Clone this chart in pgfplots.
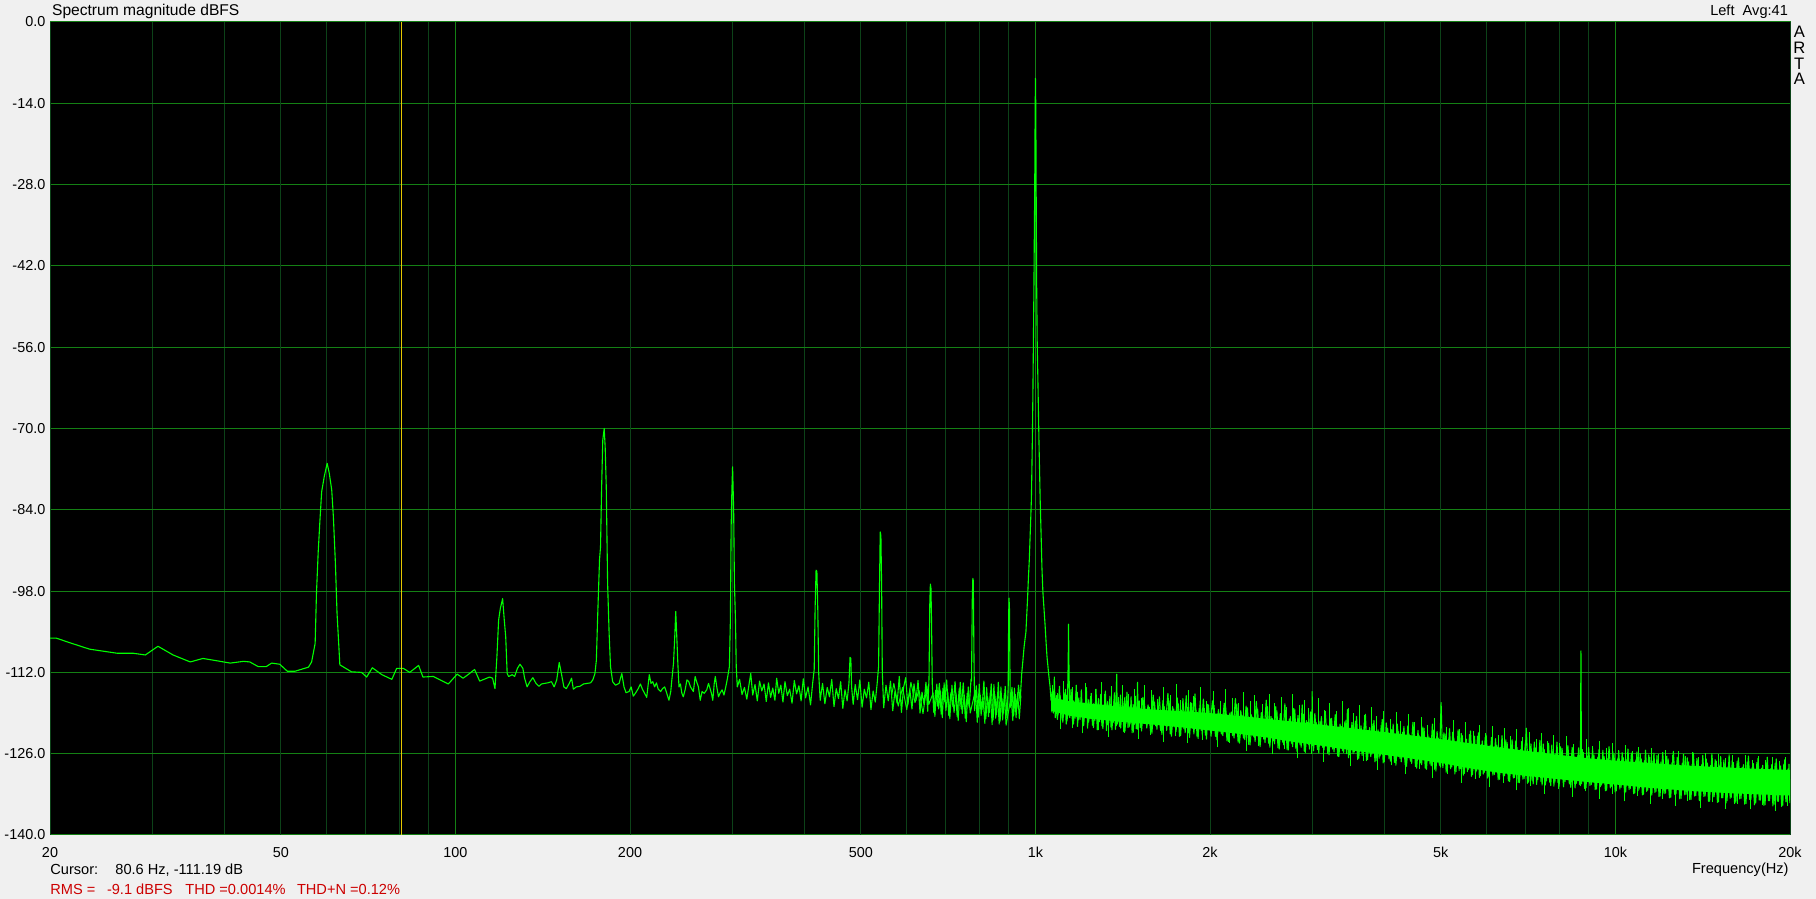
\documentclass[border=0pt]{standalone}
\usepackage{fontspec}
\setmainfont{Liberation Sans}
\usepackage{pgfplots}
\usepackage{pgfplotstable}
\pgfplotsset{compat=1.18}
\definecolor{bgGray}{RGB}{240,240,240}
\definecolor{gridBright}{RGB}{20,128,20}
\definecolor{gridDark}{RGB}{12,66,24}
\definecolor{traceGreen}{RGB}{0,255,0}
\definecolor{cursorYellow}{RGB}{230,200,0}
\definecolor{infoRed}{RGB}{204,0,0}

\pgfplotstableread{
f db
20 -106.1
20.5 -106.1
21.65 -106.9
23.4 -108.0
26.1 -108.7
27.8 -108.7
29.2 -109.0
30.7 -107.5
32.6 -109.0
34.9 -110.2
36.7 -109.6
38.8 -110.0
40.9 -110.4
43.1 -110.1
44.2 -110.2
45.7 -111.0
47.2 -111.0
48.2 -110.4
49.8 -110.6
51.3 -111.8
52.9 -111.8
55.8 -111.1
56.5 -110.2
57.3 -107.0
57.6 -98.4
58.0 -91.2
58.4 -85.8
58.8 -80.9
59.4 -78.3
60.1 -76.0
60.6 -77.7
61.2 -80.6
61.6 -85.2
62.1 -93.2
62.5 -101.8
63.0 -108.1
63.2 -110.7
66.2 -111.9
68.9 -112.0
70.3 -112.8
71.9 -111.2
74.7 -112.4
77.7 -113.2
79.2 -111.3
81.3 -111.3
83.4 -112.0
86.4 -110.8
87.9 -112.8
91.6 -112.7
97.2 -114.0
100.7 -112.3
103.1 -113.0
105.1 -112.4
107.9 -111.5
110.1 -113.5
114.5 -112.8
115.9 -113.0
117.0 -114.8
117.9 -109.3
118.7 -103.0
119.5 -101.0
120.6 -99.3
121.4 -103.0
122.1 -105.9
122.8 -112.2
123.5 -112.7
125.3 -112.4
126.5 -112.7
127.9 -111.3
129.2 -110.6
130.7 -111.3
131.6 -113.0
132.9 -114.5
134.4 -113.6
136.0 -112.9
137.7 -113.9
139.3 -114.4
140.7 -114.0
142.3 -113.9
144.3 -113.8
146.4 -113.6
148.0 -114.5
149.5 -113.3
151.0 -110.3
152.3 -112.2
153.8 -114.5
155.3 -114.8
157.1 -113.9
158.6 -113.0
159.7 -114.9
161.6 -114.5
163.9 -114.4
166.2 -114.0
168.6 -113.9
171.0 -113.8
172.5 -113.3
174.0 -112.2
175.0 -109.9
175.9 -102.4
177.2 -92.6
177.9 -90.4
178.7 -80.0
179.5 -72.0
180.5 -70.0
181.2 -73.1
182.0 -80.0
183.0 -96.7
184.1 -105.3
185.1 -111.0
186.7 -113.6
188.8 -114.2
191.5 -113.9
193.6 -112.2
195.3 -114.5
196.9 -115.5
199.2 -115.3
200.9 -114.5
202.6 -116.1
204.6 -115.5
206.6 -114.8
208.4 -114.0
210.1 -114.9
211.9 -115.6
213.7 -116.3
215.9 -112.4
217.4 -113.9
218.9 -113.6
220.5 -114.5
222.1 -113.8
223.7 -114.9
225.9 -115.3
227.5 -114.8
229.5 -114.5
231.4 -115.6
233.4 -116.8
235.1 -115.3
236.1 -113.3
237.7 -110.4
238.8 -106.1
239.8 -101.5
240.8 -105.9
241.8 -110.4
242.9 -114.5
244.3 -114.0
245.7 -115.6
247.1 -116.2
248.9 -115.0
250.7 -113.3
252.5 -113.6
254.3 -114.5
257.2 -115.3
259.0 -112.7
260.5 -113.6
262.4 -114.5
264.3 -116.8
266.2 -115.3
268.5 -115.6
271.2 -115.0
273.1 -113.9
274.3 -114.5
276.3 -115.6
277.8 -116.8
279.4 -113.9
280.6 -112.7
282.2 -114.5
284.2 -116.2
285.8 -115.6
288.3 -115.0
290.4 -115.9
292.5 -114.5
294.1 -113.3
295.4 -112.2
296.7 -111.0
297.9 -103.0
298.8 -86.9
299.7 -80.6
300.5 -76.6
301.8 -84.0
302.7 -96.7
304.0 -103.0
304.9 -111.0
306.2 -114.5
309 -113.2
312 -115.8
315 -114.6
318 -116.6
321 -113.9
323 -112.2
325.5 -115.9
328.5 -114.1
331.5 -116.9
334.5 -113.5
337.5 -115.2
340.5 -114.0
343.5 -117.0
346.5 -113.8
349.5 -116.3
352.5 -114.7
355.5 -116.8
358 -113.0
361 -115.6
364 -114.2
367 -117.1
370 -113.6
373.5 -116.0
377 -114.9
380.5 -117.3
384 -113.4
387.5 -115.7
391 -114.3
394.5 -116.9
398 -113.1
401.5 -116.4
405.5 -114.5
409.5 -117.6
413 -113.8
415.5 -111.5
417 -101.0
418.6 -94.4
420 -94.6
421.5 -101.3
423 -112.2
425.5 -116.8
429.5 -113.9
433.5 -117.4
437.5 -114.6
441.5 -116.2
445.5 -113.2
449.5 -117.9
453.5 -114.8
457.5 -116.5
461.5 -113.6
465.5 -118.2
469.5 -115.0
473.5 -116.9
477 -113.8
479 -109.4
480.5 -109.6
482 -114.5
485 -117.5
489 -114.1
493.5 -116.7
498 -113.3
502.5 -118.0
507 -114.9
511.5 -116.4
516 -113.7
520.5 -118.4
525 -115.2
529.5 -117.1
533.5 -113.9
536.5 -111.0
538.5 -97.0
540 -87.8
541.5 -88.5
543 -97.0
544.5 -112.0
547.5 -118.1
552.5 -114.2
557.5 -116.9
562.5 -113.5
567.5 -118.6
572.5 -115.3
577.5 -117.3
582.5 -112.7
587.5 -118.9
592.5 -114.6
597.5 -112.9
602.5 -117.6
607.5 -115.0
612.5 -118.3
617.5 -114.0
622.5 -116.8
627.5 -113.4
632.5 -119.0
637.5 -115.4
642.5 -117.5
647.5 -113.7
652 -118.7
655.5 -113.0
657.5 -100.0
659 -96.8
660.5 -97.5
662 -103.0
664 -114.0
668 -118.9
673 -115.1
678 -117.8
683 -113.9
688 -119.2
693 -114.7
698 -117.1
703 -113.3
709 -119.4
715 -115.5
721 -117.9
727 -113.6
733 -119.6
739 -114.8
745 -118.3
751 -113.8
757 -119.9
763 -115.6
769 -118.0
774.5 -113.2
776 -113.5
778.4 -99.4
780 -95.8
781.5 -96.2
783.5 -108.4
785.5 -118.6
791 -114.3
797 -119.7
803 -115.9
809 -118.4
815 -113.5
821 -120.0
827 -116.2
833 -118.9
839 -114.0
845 -120.2
851 -115.8
857 -119.3
863 -113.7
869 -120.4
875 -116.4
881 -119.0
887 -114.4
893 -119.8
897.5 -114.5
899.2 -102.1
900.5 -99.2
902 -101.0
903.5 -110.0
905 -118.0
911 -114.6
917 -119.5
923 -115.8
929 -118.2
935 -114.2
941 -117.0
947 -112.2
951 -110.2
956 -107.6
963 -105.0
969 -99.5
972.5 -95.8
976 -92.6
980 -87.5
984 -82.3
986 -77.1
988 -71.4
990 -64.0
992 -55.0
994 -46.0
995.6 -37.0
997 -30.0
998.5 -18.0
1000 -9.7
1001.5 -15.0
1003 -30.0
1005 -45.8
1007 -55.0
1010 -62.0
1014 -72.0
1019 -82.3
1023 -88.6
1026 -93.8
1030 -98.1
1035 -101.3
1039 -103.8
1043 -106.7
1047 -109.3
1051 -111.0
1055 -112.7
1060 -114.5
1064 -116.8
1070 -115.2
1074 -119.0
1078 -112.8
1082 -119.8
1088 -116.0
1094 -119.2
1100 -114.4
1106 -120.2
1112 -116.8
1118 -119.6
1124 -115.5
1130 -120.9
1136 -116.2
1139 -110.0
1140.5 -103.7
1142 -110.0
1146 -119.8
1152 -114.9
1158 -120.4
1164 -116.9
1170 -119.9
1176 -114.2
1182 -121.3
1188 -116.4
1194 -120.1
1200 -115.0
1206 -120.8
1212 -117.3
1218 -119.7
1224 -114.6
1230 -121.6
1236 -116.7
1242 -120.0
1248 -115.6
1254 -121.1
1260 -117.4
1266 -120.3
1272 -114.9
1278 -121.9
1284 -116.5
1290 -120.5
1296 -115.8
1302 -121.2
1308 -117.6
1314 -120.1
1320 -115.2
1326 -122.0
1332 -117.0
1338 -120.7
1344 -116.1
1350 -121.4
1356 -117.9
1362 -120.6
1368 -115.5
1374 -121.8
1378 -116.0
1381 -112.3
1384 -120.9
1390 -117.2
1396 -121.3
1402 -115.9
1408 -120.4
1414 -117.7
1420 -122.2
1426 -116.3
1432 -120.8
1438 -115.4
1444 -121.5
1450 -117.9
1456 -120.9
1462 -116.2
1468 -122.4
1474 -117.5
1480 -121.0
1486 -116.6
1492 -121.7
1497 -118.0
1500 -113.7
1503 -121.2
1510 -116.9
1516 -121.5
1532 -116.3
1548 -120.8
1564 -117.6
1580 -122.3
1596 -115.9
1612 -121.2
1628 -118.3
1644 -122.0
1660 -116.8
1676 -121.0
1692 -115.6
1708 -122.6
1724 -117.9
1740 -121.4
1756 -116.4
1772 -123.0
1788 -118.5
1804 -121.7
1820 -116.0
1836 -122.4
1852 -117.2
1868 -121.6
1884 -115.7
1900 -123.1
1916 -118.2
1932 -122.0
1948 -116.6
1964 -122.8
1980 -117.5
1996 -121.9
2020 -116.9
2044 -123.0
2068 -118.4
2092 -122.6
2116 -117.3
2140 -123.8
2164 -119.0
2188 -122.9
2212 -116.5
2236 -124.0
2260 -118.6
2284 -123.3
2308 -117.8
2332 -124.4
2356 -119.3
2380 -123.1
2404 -117.0
2428 -124.6
2452 -118.9
2476 -123.5
2500 -116.8
2524 -124.2
2548 -119.6
2572 -123.8
2596 -117.9
2620 -125.0
2644 -119.1
2668 -124.0
2692 -117.4
2716 -125.3
2740 -120.0
2764 -124.2
2788 -118.2
2812 -125.1
2836 -119.4
2860 -124.5
2884 -117.6
2908 -125.6
2932 -120.3
2956 -124.4
2980 -118.8
2996 -124.0
3000 -115.3
3004 -124.6
3032 -119.1
3064 -125.3
3096 -120.4
3128 -124.9
3160 -118.7
3192 -126.0
3224 -120.0
3256 -125.2
3288 -119.3
3320 -126.4
3352 -120.9
3384 -125.5
3416 -120.5
3440 -126.0
3450 -118.4
3482 -126.2
3514 -120.6
3546 -125.7
3578 -119.6
3610 -126.8
3642 -121.2
3674 -125.9
3706 -119.2
3738 -127.0
3770 -121.5
3802 -126.1
3834 -120.3
3866 -127.2
3898 -121.9
3930 -126.4
3962 -120.1
3994 -127.4
4026 -120.7
4071 -126.9
4116 -121.8
4161 -127.5
4206 -120.9
4251 -126.8
4296 -122.3
4341 -127.9
4386 -121.2
4431 -127.3
4476 -120.6
4521 -128.2
4566 -122.0
4611 -127.6
4656 -121.4
4701 -128.5
4746 -122.7
4791 -127.8
4836 -120.9
4881 -128.7
4926 -122.2
4971 -128.0
5005 -117.2
5040 -128.4
5085 -122.6
5130 -128.9
5175 -121.7
5220 -128.3
5265 -123.3
5310 -129.1
5355 -121.9
5400 -128.6
5445 -122.9
5490 -129.4
5535 -123.5
5580 -128.7
5625 -122.1
5670 -129.6
5715 -123.0
5760 -129.0
5805 -122.4
5850 -129.8
5895 -123.8
5940 -129.2
5985 -122.8
6050 -130.0
6115 -123.2
6180 -129.6
6245 -124.5
6310 -130.4
6375 -122.9
6440 -129.8
6505 -124.1
6570 -130.8
6635 -123.6
6700 -130.1
6765 -124.9
6830 -131.0
6895 -123.9
6960 -130.3
7020 -121.6
7085 -130.9
7150 -124.3
7215 -131.2
7280 -125.0
7345 -130.5
7410 -123.7
7475 -131.4
7540 -125.3
7605 -130.7
7670 -124.2
7735 -131.5
7800 -125.6
7865 -130.9
7930 -124.0
7995 -131.6
8090 -125.1
8185 -130.8
8280 -124.6
8375 -131.8
8470 -125.9
8565 -131.1
8640 -125.0
8700 -131.5
8720 -108.3
8740 -131.2
8800 -125.8
8895 -131.9
8990 -124.9
9085 -131.3
9180 -126.2
9275 -132.1
9370 -125.3
9465 -131.4
9560 -126.5
9655 -132.3
9750 -124.8
9845 -131.6
9940 -126.0
10035 -132.4
10130 -125.5
10225 -131.8
10320 -126.7
10415 -132.6
10510 -125.2
10605 -132.0
10700 -126.4
10795 -132.8
10890 -125.7
10985 -132.1
11080 -126.9
11175 -133.0
11270 -125.4
11365 -132.3
11460 -126.6
11555 -133.1
11650 -125.9
11745 -132.5
11840 -127.0
11935 -133.3
12065 -125.8
12195 -132.8
12325 -126.9
12455 -133.5
12585 -125.6
12715 -132.9
12845 -127.2
12975 -133.7
13105 -126.1
13235 -133.0
13365 -127.4
13495 -133.9
13625 -125.9
13755 -133.2
13885 -127.0
14015 -134.0
14145 -126.3
14275 -133.3
14405 -127.6
14535 -134.2
14665 -126.0
14795 -133.4
14925 -127.3
15055 -134.3
15185 -126.5
15315 -133.6
15445 -127.8
15575 -134.1
15705 -126.2
15835 -133.5
15965 -127.5
16130 -134.4
16295 -126.7
16460 -133.7
16625 -127.9
16790 -134.6
16955 -126.4
17120 -133.9
17285 -127.7
17450 -134.5
17615 -126.8
17780 -134.0
17945 -128.0
18110 -134.8
18275 -126.6
18440 -134.1
18605 -127.9
18770 -134.7
18935 -126.9
19100 -134.2
19265 -128.1
19430 -134.9
19595 -127.0
19760 -134.3
19925 -127.8
20000 -134.0
}\trace

\pgfplotstableread{
f db
565 -116.0
570 -113.9
580 -117.8
590 -114.6
600 -118.4
610 -113.7
620 -117.2
630 -115.1
640 -119.1
650 -114.3
655 -117.5
666 -115.6
671 -119.6
676 -114.0
681 -118.3
686 -115.2
691 -119.8
696 -113.8
701 -118.6
706 -115.4
712 -120.0
718 -114.2
724 -118.9
730 -115.7
736 -120.3
742 -113.7
748 -119.1
754 -115.9
760 -120.5
766 -114.5
772 -119.0
788 -115.1
794 -120.6
800 -114.0
806 -119.4
812 -116.3
818 -120.8
824 -114.6
830 -119.6
836 -115.4
842 -121.0
848 -114.1
854 -119.9
860 -116.0
866 -120.9
872 -114.5
878 -120.2
884 -115.6
890 -121.1
908 -116.2
914 -120.3
920 -114.7
926 -119.8
932 -115.5
938 -120.0
944 -116.0
}\noisetwo

\pgfplotstableread{
f db
1067 -118.9
1079 -115.8
1091 -120.1
1103 -116.0
1115 -120.6
1127 -114.9
1133 -120.4
1151 -116.1
1163 -120.9
1175 -115.6
1187 -120.2
1199 -116.9
1211 -121.2
1223 -115.8
1235 -120.6
1247 -117.1
1259 -121.5
1271 -116.3
1283 -120.8
1295 -117.4
1307 -121.7
1319 -116.0
1331 -121.0
1343 -117.5
1355 -121.9
1367 -116.6
1379 -121.2
1391 -116.4
1403 -121.6
1415 -117.0
1427 -122.1
1439 -116.9
1451 -121.4
1463 -117.6
1475 -122.3
1487 -116.1
1499 -121.8
1508 -117.4
1524 -122.1
1540 -116.8
1556 -121.6
1572 -118.0
1588 -122.5
1604 -117.1
1620 -121.8
1636 -116.2
1652 -122.7
1668 -117.9
1684 -122.0
1700 -116.9
1716 -123.0
1732 -118.3
1748 -122.2
1764 -117.4
1780 -122.9
1796 -116.5
1812 -122.4
1828 -118.0
1844 -123.2
1860 -117.3
1876 -122.6
1892 -118.5
1908 -123.4
1924 -116.9
1940 -122.8
1956 -118.2
1972 -123.5
1988 -117.6
2008 -123.0
2032 -117.7
2056 -123.6
2080 -119.1
2104 -122.9
2128 -117.9
2152 -123.9
2176 -118.8
2200 -123.3
2224 -117.5
2248 -124.2
2272 -119.4
2296 -123.6
2320 -118.1
2344 -124.5
2368 -119.7
2392 -123.9
2416 -118.3
2440 -124.8
2464 -119.2
2488 -124.1
2512 -117.9
2536 -124.9
2560 -119.9
2584 -124.3
2608 -118.6
2632 -125.2
2656 -120.1
2680 -124.5
2704 -118.9
2728 -125.4
2752 -119.6
2776 -124.8
2800 -118.4
2824 -125.6
2848 -120.4
2872 -124.9
2896 -119.2
2920 -125.8
2944 -120.6
2968 -125.2
2992 -119.0
3016 -125.5
3048 -120.6
3080 -125.9
3112 -119.6
3144 -125.4
3176 -121.0
3208 -126.2
3240 -119.9
3272 -125.7
3304 -120.8
3336 -126.5
3368 -121.3
3400 -125.8
3432 -120.2
3466 -126.7
3498 -121.6
3530 -126.0
3562 -120.4
3594 -127.0
3626 -121.8
3658 -126.3
3690 -120.6
3722 -127.2
3754 -122.0
3786 -126.5
3818 -120.9
3850 -127.4
3882 -122.2
3914 -126.8
3946 -121.1
3978 -127.6
4048 -121.6
4093 -127.3
4138 -120.9
4183 -128.0
4228 -122.2
4273 -127.4
4318 -121.3
4363 -128.2
4408 -122.6
4453 -127.7
4498 -121.8
4543 -128.5
4588 -122.9
4633 -127.9
4678 -121.6
4723 -128.7
4768 -123.1
4813 -128.1
4858 -122.0
4903 -129.0
4948 -123.3
4993 -128.3
5062 -122.4
5107 -129.2
5152 -123.5
5197 -128.6
5242 -122.3
5287 -129.5
5332 -123.8
5377 -128.9
5422 -122.5
5467 -129.7
5512 -124.0
5557 -129.1
5602 -122.7
5647 -129.9
5692 -124.2
5737 -129.4
5782 -123.0
5827 -130.1
5872 -124.4
5917 -129.5
5962 -123.2
6018 -130.2
6083 -124.6
6148 -129.7
6213 -123.4
6278 -130.5
6343 -124.9
6408 -129.9
6473 -123.6
6538 -130.7
6603 -125.1
6668 -130.2
6733 -123.8
6798 -131.0
6863 -125.3
6928 -130.4
6993 -124.1
7053 -131.1
7118 -125.5
7183 -130.6
7248 -124.0
7313 -131.3
7378 -125.8
7443 -130.8
7508 -124.3
7573 -131.4
7638 -125.9
7703 -130.9
7768 -124.5
7833 -131.6
7898 -126.0
7963 -131.0
8043 -124.8
8138 -131.7
8233 -126.1
8328 -131.2
8423 -124.9
8518 -131.9
8613 -126.3
8670 -131.3
8770 -125.3
8848 -132.0
8943 -126.4
9038 -131.5
9133 -125.1
9228 -132.2
9323 -126.6
9418 -131.7
9513 -125.4
9608 -132.4
9703 -126.8
9798 -131.9
9893 -125.6
9988 -132.6
10083 -126.9
10178 -132.1
10273 -125.8
10368 -132.8
10463 -127.0
10558 -132.2
10653 -125.9
10748 -132.9
10843 -127.1
10938 -132.4
11033 -126.0
11128 -133.1
11223 -127.2
11318 -132.5
11413 -126.2
11508 -133.2
11603 -127.3
11698 -132.7
11793 -126.3
11888 -133.4
11983 -127.4
12130 -132.9
12260 -126.4
12390 -133.6
12520 -127.5
12650 -133.0
12780 -126.6
12910 -133.8
13040 -127.6
13170 -133.1
13300 -126.7
13430 -133.9
13560 -127.8
13690 -133.3
13820 -126.8
13950 -134.1
14080 -127.9
14210 -133.4
14340 -126.9
14470 -134.2
14600 -128.0
14730 -133.5
14860 -127.0
14990 -134.4
15120 -128.1
15250 -133.6
15380 -127.1
15510 -134.5
15640 -128.2
15770 -133.7
15900 -127.2
16048 -134.6
16213 -127.3
16378 -133.8
16543 -128.3
16708 -134.7
16873 -127.4
17038 -133.9
17203 -128.4
17368 -134.8
17533 -127.5
17698 -134.0
17863 -128.5
18028 -134.9
18193 -127.6
18358 -134.1
18523 -128.6
18688 -135.0
18853 -127.7
19018 -134.2
19183 -128.7
19348 -135.1
19513 -127.8
19678 -134.3
19843 -128.6
19990 -134.5
}\tracetwo

\pgfplotstableread{
f db
1072 -118.1
1072 -114.2
nan nan
1090 -118.3
1090 -115.6
nan nan
1117 -118.5
1117 -113.4
nan nan
1133 -118.6
1133 -115.9
nan nan
1160 -118.7
1160 -114.6
nan nan
1183 -118.8
1183 -115.4
nan nan
1221 -118.9
1221 -113.8
nan nan
1243 -119.0
1243 -116.1
nan nan
1269 -119.1
1269 -114.9
nan nan
1300 -119.2
1300 -113.6
nan nan
1318 -119.2
1318 -115.8
nan nan
1352 -119.3
1352 -114.4
nan nan
1393 -119.5
1393 -116.3
nan nan
1412 -119.5
1412 -114.1
nan nan
1447 -119.6
1447 -115.7
nan nan
1480 -119.7
1480 -114.8
nan nan
1521 -119.8
1521 -116.4
nan nan
1545 -119.9
1545 -114.2
nan nan
1588 -120.0
1588 -115.1
nan nan
1621 -120.0
1621 -116.6
nan nan
1660 -120.1
1660 -114.5
nan nan
1712 -120.2
1712 -115.9
nan nan
1749 -120.2
1749 -114.0
nan nan
1781 -120.3
1781 -116.7
nan nan
1838 -120.4
1838 -115.0
nan nan
1872 -120.4
1872 -116.0
nan nan
1925 -120.5
1925 -114.6
nan nan
1972 -120.6
1972 -116.9
nan nan
2031 -120.7
2031 -115.2
nan nan
2086 -120.8
2086 -117.0
nan nan
2125 -120.8
2125 -114.8
nan nan
2190 -120.9
2190 -116.4
nan nan
2241 -121.0
2241 -117.3
nan nan
2287 -121.1
2287 -115.3
nan nan
2346 -121.2
2346 -116.9
nan nan
2390 -121.2
2390 -115.9
nan nan
2461 -121.3
2461 -117.5
nan nan
2532 -121.5
2532 -115.7
nan nan
2581 -121.5
2581 -117.2
nan nan
2655 -121.6
2655 -116.2
nan nan
2712 -121.7
2712 -117.9
nan nan
2776 -121.8
2776 -115.8
nan nan
2852 -121.9
2852 -117.6
nan nan
2915 -122.0
2915 -116.7
nan nan
2962 -122.1
2962 -118.1
nan nan
3081 -122.3
3081 -116.4
nan nan
3154 -122.4
3154 -118.4
nan nan
3218 -122.5
3218 -117.3
nan nan
3301 -122.6
3301 -118.7
nan nan
3378 -122.7
3378 -116.9
nan nan
3468 -122.8
3468 -118.1
nan nan
3529 -122.9
3529 -119.0
nan nan
3621 -123.0
3621 -117.6
nan nan
3690 -123.1
3690 -119.3
nan nan
3797 -123.2
3797 -118.0
nan nan
3880 -123.3
3880 -119.5
nan nan
3975 -123.5
3975 -118.6
nan nan
4088 -123.6
4088 -120.1
nan nan
4187 -123.7
4187 -118.9
nan nan
4262 -123.8
4262 -120.4
nan nan
4394 -123.9
4394 -119.2
nan nan
4511 -124.0
4511 -120.6
nan nan
4627 -124.1
4627 -119.6
nan nan
4745 -124.3
4745 -121.0
nan nan
4869 -124.4
4869 -119.9
nan nan
5122 -124.7
5122 -121.4
nan nan
5250 -124.9
5250 -120.2
nan nan
5392 -125.0
5392 -121.7
nan nan
5505 -125.1
5505 -120.6
nan nan
5688 -125.3
5688 -122.1
nan nan
5829 -125.4
5829 -121.0
nan nan
5977 -125.6
5977 -122.4
nan nan
6142 -125.7
6142 -121.3
nan nan
6291 -125.8
6291 -122.7
nan nan
6446 -125.9
6446 -121.5
nan nan
6588 -126.1
6588 -122.9
nan nan
6753 -126.2
6753 -121.8
nan nan
6915 -126.3
6915 -123.2
nan nan
7104 -126.5
7104 -122.3
nan nan
7297 -126.6
7297 -123.5
nan nan
7459 -126.7
7459 -122.5
nan nan
7652 -126.9
7652 -123.8
nan nan
7833 -127.0
7833 -122.8
nan nan
8015 -127.1
8015 -124.1
nan nan
8246 -127.2
8246 -123.0
nan nan
8459 -127.4
8459 -124.4
nan nan
8922 -127.7
8922 -123.5
nan nan
9143 -127.8
9143 -124.7
nan nan
9389 -127.9
9389 -123.9
nan nan
9635 -128.0
9635 -125.0
nan nan
9880 -128.1
9880 -124.2
nan nan
10140 -128.1
10140 -125.3
nan nan
10410 -128.2
10410 -124.5
nan nan
10690 -128.3
10690 -125.5
nan nan
10965 -128.4
10965 -124.8
nan nan
11250 -128.4
11250 -125.8
nan nan
11560 -128.5
11560 -125.0
nan nan
11880 -128.6
11880 -126.0
nan nan
12190 -128.7
12190 -125.3
nan nan
12520 -128.8
12520 -126.2
nan nan
12860 -128.9
12860 -125.5
nan nan
13200 -128.9
13200 -126.4
nan nan
13560 -129.0
13560 -125.7
nan nan
13930 -129.0
13930 -126.5
nan nan
14300 -129.1
14300 -125.9
nan nan
14690 -129.1
14690 -126.7
nan nan
15080 -129.2
15080 -126.0
nan nan
15480 -129.3
15480 -126.8
nan nan
15900 -129.3
15900 -126.2
nan nan
16330 -129.4
16330 -126.9
nan nan
16770 -129.4
16770 -126.3
nan nan
17220 -129.5
17220 -127.0
nan nan
17680 -129.5
17680 -126.4
nan nan
18150 -129.6
18150 -127.1
nan nan
18640 -129.6
18640 -126.5
nan nan
19150 -129.7
19150 -127.2
nan nan
19660 -129.7
19660 -126.6
nan nan
1103 -121.8
1103 -117.6
nan nan
1158 -121.6
1158 -118.0
nan nan
1205 -122.5
1205 -118.3
nan nan
1287 -122.0
1287 -118.6
nan nan
1338 -123.1
1338 -118.8
nan nan
1425 -122.4
1425 -119.1
nan nan
1503 -123.4
1503 -119.3
nan nan
1577 -122.7
1577 -119.4
nan nan
1666 -124.0
1666 -119.7
nan nan
1741 -123.0
1741 -119.9
nan nan
1829 -124.2
1829 -120.1
nan nan
1943 -123.6
1943 -120.4
nan nan
2057 -124.9
2057 -120.7
nan nan
2163 -124.1
2163 -121.0
nan nan
2308 -125.5
2308 -121.3
nan nan
2421 -124.6
2421 -121.6
nan nan
2566 -126.1
2566 -122.0
nan nan
2693 -125.2
2693 -122.3
nan nan
2826 -126.8
2826 -122.7
nan nan
2990 -126.0
2990 -123.0
nan nan
3140 -127.4
3140 -123.3
nan nan
3330 -126.6
3330 -123.6
nan nan
3492 -128.2
3492 -124.0
nan nan
3680 -127.2
3680 -124.3
nan nan
3888 -128.8
3888 -124.7
nan nan
4110 -128.0
4110 -125.1
nan nan
4350 -129.5
4350 -125.4
nan nan
4590 -128.6
4590 -125.7
nan nan
4830 -130.2
4830 -126.1
nan nan
5140 -129.5
5140 -126.5
nan nan
5430 -131.0
5430 -126.9
nan nan
5730 -130.3
5730 -127.3
nan nan
6060 -131.8
6060 -127.7
nan nan
6400 -131.0
6400 -128.1
nan nan
6760 -132.3
6760 -128.3
nan nan
7150 -131.5
7150 -128.6
nan nan
7560 -132.9
7560 -128.8
nan nan
7980 -132.0
7980 -129.1
nan nan
8430 -133.4
8430 -129.3
nan nan
8880 -132.5
8880 -129.5
nan nan
9370 -133.8
9370 -129.8
nan nan
9870 -132.9
9870 -130.0
nan nan
10380 -134.2
10380 -130.1
nan nan
10920 -133.3
10920 -130.4
nan nan
11480 -134.6
11480 -130.6
nan nan
12060 -133.8
12060 -130.8
nan nan
12680 -135.0
12680 -131.0
nan nan
13330 -134.1
13330 -131.2
nan nan
14010 -135.3
14010 -131.3
nan nan
14720 -134.4
14720 -131.5
nan nan
15460 -135.5
15460 -131.6
nan nan
16250 -134.7
16250 -131.7
nan nan
17080 -135.6
17080 -131.8
nan nan
17950 -134.8
17950 -131.9
nan nan
18870 -135.8
18870 -131.9
nan nan
19830 -135.0
19830 -132.0
}\spikes

\pgfplotstableread{
f db
1064 -116.3
1150 -117.0
1250 -117.4
1400 -117.9
1600 -118.4
1800 -118.7
2000 -119.0
2250 -119.5
2500 -120.0
2800 -120.5
3100 -121.0
3500 -121.6
4000 -122.3
4500 -122.9
5000 -123.5
5600 -124.2
6300 -124.9
7000 -125.5
8000 -126.2
9000 -126.8
10000 -127.2
11500 -127.6
13000 -128.0
15000 -128.3
17500 -128.6
20000 -128.8
20000 -133.2
17500 -133.0
15000 -132.7
13000 -132.3
11500 -131.9
10000 -131.3
9000 -130.9
8000 -130.4
7000 -129.8
6300 -129.3
5600 -128.5
5000 -127.6
4500 -126.9
4000 -126.2
3500 -125.4
3100 -124.6
2800 -124.0
2500 -123.2
2250 -122.6
2000 -122.0
1800 -121.5
1600 -121.0
1400 -120.5
1250 -120.0
1150 -119.5
1064 -118.6
}\band

\begin{document}
\begin{tikzpicture}
\fill[bgGray] (0,0) rectangle (908pt,449.5pt);
\begin{axis}[
  at={(25pt,32pt)}, anchor=south west,
  scale only axis, width=870pt, height=406.5pt,
  xmode=log, log basis x=10,
  xmin=20, xmax=20000, ymin=-140, ymax=0,
  axis background/.style={fill=black},
  no markers,
  xtick={100,1000,10000}, xticklabels={100,1k,10k},
  extra x ticks={20,50,200,500,2000,5000,20000},
  extra x tick labels={20,50,200,500,2k,5k,20k},
  extra x tick style={grid=major, major grid style={draw=gridDark, line width=0.5pt}},
  minor xtick={30,40,60,70,80,90,300,400,600,700,800,900,3000,4000,6000,7000,8000,9000},
  xmajorgrids, xminorgrids, ymajorgrids,
  ytick={-140,-126,-112,-98,-84,-70,-56,-42,-28,-14,0},
  yticklabels={-140.0,-126.0,-112.0,-98.0,-84.0,-70.0,-56.0,-42.0,-28.0,-14.0,0.0},
  major grid style={draw=gridBright, line width=0.5pt},
  minor grid style={draw=gridDark, line width=0.5pt},
  axis line style={draw=gridBright, line width=0.5pt},
  tick style={draw=none},
  tick label style={font=\fontsize{7.2}{8.6}\selectfont, text=black},
  xticklabel style={anchor=north, inner sep=0pt, yshift=-6pt},
  yticklabel style={anchor=east, inner sep=0pt, xshift=-2.15pt},
]
\addplot[fill=traceGreen, draw=none] table[x=f, y=db] {\band};
\addplot[traceGreen, line width=0.5pt, unbounded coords=jump] table[x=f, y=db] {\spikes};
\addplot[traceGreen, line width=0.5pt, line join=round] table[x=f, y=db] {\tracetwo};
\addplot[traceGreen, line width=0.5pt, line join=round] table[x=f, y=db] {\noisetwo};
\addplot[traceGreen, line width=0.55pt, line join=round] table[x=f, y=db] {\trace};
\addplot[cursorYellow, line width=0.6pt] coordinates {(80.6,0) (80.6,-140)};
\end{axis}

\node[anchor=base west, inner sep=0pt, font=\fontsize{7.8}{9}\selectfont] at (25.85pt,441.65pt) {Spectrum magnitude dBFS};
\node[anchor=base east, inner sep=0pt, font=\fontsize{7.3}{9}\selectfont] at (894.15pt,441.65pt) {Left\ \ Avg:41};
\node[anchor=base, inner sep=0pt, font=\fontsize{8.3}{9}\selectfont] at (899.65pt,430.85pt) {A};
\node[anchor=base, inner sep=0pt, font=\fontsize{8.3}{9}\selectfont] at (899.65pt,422.9pt) {R};
\node[anchor=base, inner sep=0pt, font=\fontsize{8.3}{9}\selectfont] at (899.65pt,414.95pt) {T};
\node[anchor=base, inner sep=0pt, font=\fontsize{8.3}{9}\selectfont] at (899.65pt,407.0pt) {A};

\node[anchor=base west, inner sep=0pt, font=\fontsize{7.3}{9}\selectfont] at (25pt,12pt) {Cursor:};
\node[anchor=base west, inner sep=0pt, font=\fontsize{7.3}{9}\selectfont] at (57.5pt,12pt) {80.6 Hz, -111.19 dB};
\node[anchor=base west, inner sep=0pt, font=\fontsize{7.3}{9}\selectfont, text=infoRed] at (25pt,2pt) {RMS =};
\node[anchor=base west, inner sep=0pt, font=\fontsize{7.3}{9}\selectfont, text=infoRed] at (53.3pt,2pt) {-9.1 dBFS};
\node[anchor=base west, inner sep=0pt, font=\fontsize{7.3}{9}\selectfont, text=infoRed] at (92.5pt,2pt) {THD =0.0014\%};
\node[anchor=base west, inner sep=0pt, font=\fontsize{7.3}{9}\selectfont, text=infoRed] at (148.3pt,2pt) {THD+N =0.12\%};
\node[anchor=base east, inner sep=0pt, font=\fontsize{7.3}{9}\selectfont] at (894.5pt,12.5pt) {Frequency(Hz)};

\pgfresetboundingbox
\useasboundingbox (0,0) rectangle (908pt,449.5pt);
\end{tikzpicture}
\end{document}
